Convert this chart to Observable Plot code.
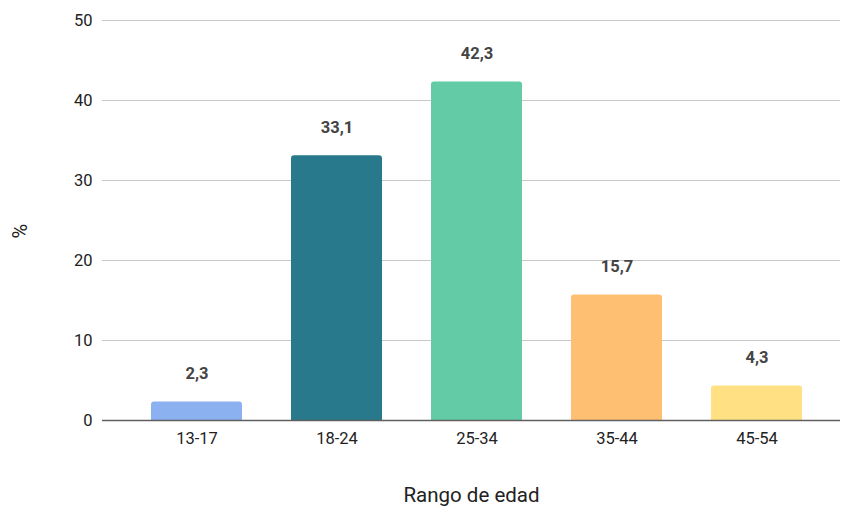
<!DOCTYPE html>
<html>
<head>
<meta charset="utf-8">
<script src="https://cdn.jsdelivr.net/npm/d3@7"></script>
<script src="https://cdn.jsdelivr.net/npm/@observablehq/plot@0.6"></script>
<style>
  html, body { margin: 0; padding: 0; background: #fff; }
  #chart { width: 842px; height: 508px; }
  svg { font-family: Roboto, "Noto Sans", sans-serif; }
</style>
</head>
<body>
<div id="chart"></div>
<script>
const categories = ["13-17", "18-24", "25-34", "35-44", "45-54"];
const values = [2.3, 33.1, 42.3, 15.7, 4.3];
const colors = ["#8cb1f1", "#27798b", "#63cba6", "#ffbf72", "#ffe083"];
const yTicks = [0, 10, 20, 30, 40, 50];
const xTitle = "Rango de edad";
const yTitle = "%";

const data = categories.map((c, i) => ({cat: c, val: values[i], color: colors[i]}));
const fmt = v => v.toFixed(1).replace(".", ",");

const chart = Plot.plot({
  width: 842,
  height: 508,
  marginLeft: 102,
  marginRight: 2,
  marginTop: 20,
  marginBottom: 88,
  style: {fontFamily: "Roboto, 'Noto Sans', sans-serif", fontSize: "16px", color: "#222", background: "#fff"},
  x: {domain: categories, range: [102, 851], padding: 0.35, label: null},
  y: {domain: [0, 50], ticks: yTicks, label: null},
  marks: [
    Plot.gridY(yTicks, {stroke: "#c8c8c8", strokeOpacity: 1, strokeWidth: 1}),
    Plot.barY(data, {x: "cat", y: "val", fill: "color", rx1y1: 3, rx2y1: 3}),
    Plot.ruleY([0], {stroke: "#606060", strokeWidth: 1.5}),
    Plot.text(data, {x: "cat", y: "val", text: d => fmt(d.val), dy: -28, fontWeight: "bold", fontSize: 16.5, fill: "#444", lineAnchor: "middle"}),
    Plot.axisY(yTicks, {tickSize: 0, tickPadding: 10, fontSize: 16.5, fill: "#222", label: null}),
    Plot.axisX({tickSize: 0, tickPadding: 12, fontSize: 16.5, fill: "#222", label: null}),
    Plot.text([xTitle], {frameAnchor: "bottom", dy: 75, fontSize: 20.5, fill: "#222", lineAnchor: "middle"}),
    Plot.text([yTitle], {frameAnchor: "left", dx: -82, dy: 18, rotate: -90, fontSize: 20, fill: "#222", lineAnchor: "middle"})
  ]
});
document.getElementById("chart").append(chart);
</script>
</body>
</html>
